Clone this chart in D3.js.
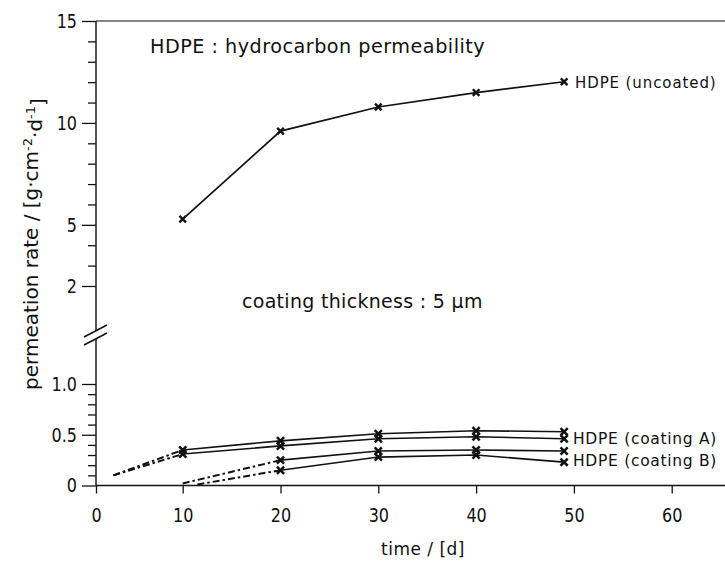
<!DOCTYPE html>
<html><head><meta charset="utf-8">
<script src="https://cdn.jsdelivr.net/npm/d3@7"></script>
<style>
html,body{margin:0;padding:0;background:#fff;}
svg{display:block;}
text{font-family:"DejaVu Sans",sans-serif;fill:#111;}
</style></head><body>
<svg id="chart" width="725" height="561"></svg>
<script>
// ---------- data ----------
const xTicks = [0, 10, 20, 30, 40, 50, 60];
const xTickLabels = ["0", "10", "20", "30", "40", "50", "60"];
const yTicksUpper = [2, 5, 10, 15];
const yTickLabelsUpper = ["2", "5", "10", "15"];
const yMinorUpper = [3, 4, 6, 7, 8, 9, 11, 12, 13, 14];
const yTicksLower = [0, 0.5, 1.0];
const yTickLabelsLower = ["0", "0.5", "1.0"];
const yMinorLower = [0.1, 0.2, 0.3, 0.4, 0.6, 0.7, 0.8, 0.9];

const uncoatedDays = [10, 20, 30, 40, 49];
const uncoatedRate = [5.28, 9.6, 10.78, 11.49, 12.02];

const coatingA1Days = [2, 10, 20, 30, 40, 49];
const coatingA1Rate = [0.10, 0.35, 0.44, 0.51, 0.54, 0.53];
const coatingA2Days = [2, 10, 20, 30, 40, 49];
const coatingA2Rate = [0.10, 0.31, 0.39, 0.46, 0.48, 0.46];
const coatingB1Days = [10, 20, 30, 40, 49];
const coatingB1Rate = [0.02, 0.25, 0.34, 0.35, 0.34];
const coatingB2Days = [11.5, 20, 30, 40, 49];
const coatingB2Rate = [0.01, 0.15, 0.28, 0.30, 0.23];

const titleText = "HDPE : hydrocarbon permeability";
const noteText = "coating thickness : 5 \u00B5m";
const labelUncoated = "HDPE (uncoated)";
const labelA = "HDPE (coating A)";
const labelB = "HDPE (coating B)";
const xTitle = "time / [d]";

// ---------- layout ----------
const W = 725, H = 561;
const ink = "#111";
const svg = d3.select("#chart");

const x = d3.scaleLinear().domain([0, 10, 65.5]).range([96, 182.7, 725.5]);
const yHigh = d3.scaleLinear().domain([2, 15]).range([286, 21]);
const yLow = d3.scaleLinear().domain([0, 1]).range([485.5, 384]);
const x0 = x(0);
const breakY = (yHigh(2) + yLow(1)) / 2;

function condense(sel, k) {
  sel.each(function () {
    const t = d3.select(this);
    const tx = +t.attr("x") || 0;
    t.attr("x", tx / k).attr("transform", `scale(${k},1)`);
  });
}
function styleAxis(g) {
  g.select(".domain").remove();
  g.selectAll(".tick line").attr("stroke", ink).attr("stroke-width", 1.3);
  g.selectAll(".tick text").attr("fill", ink)
    .style("font-family", "DejaVu Sans, sans-serif").style("font-size", "20px");
}

// x axis
const gx = svg.append("g").attr("transform", `translate(0,${yLow(0)})`)
  .call(d3.axisBottom(x).tickValues(xTicks).tickFormat((d, i) => xTickLabels[i])
    .tickSize(8).tickSizeOuter(0).tickPadding(14));
styleAxis(gx);
condense(gx.selectAll(".tick text"), 0.8);
svg.append("line").attr("x1", x0).attr("x2", W).attr("y1", yLow(0)).attr("y2", yLow(0))
  .attr("stroke", ink).attr("stroke-width", 1.3);

// upper y axis
const gyU = svg.append("g").attr("transform", `translate(${x0},0)`)
  .call(d3.axisLeft(yHigh).tickValues(yTicksUpper).tickFormat((d, i) => yTickLabelsUpper[i])
    .tickSize(14).tickSizeOuter(0).tickPadding(5));
styleAxis(gyU);
condense(gyU.selectAll(".tick text"), 0.8);
const gyUm = svg.append("g").attr("transform", `translate(${x0},0)`)
  .call(d3.axisLeft(yHigh).tickValues(yMinorUpper).tickFormat("").tickSize(8).tickSizeOuter(0));
styleAxis(gyUm);

// lower y axis
const gyL = svg.append("g").attr("transform", `translate(${x0},0)`)
  .call(d3.axisLeft(yLow).tickValues(yTicksLower).tickFormat((d, i) => yTickLabelsLower[i])
    .tickSize(14).tickSizeOuter(0).tickPadding(5));
styleAxis(gyL);
condense(gyL.selectAll(".tick text"), 0.8);
const gyLm = svg.append("g").attr("transform", `translate(${x0},0)`)
  .call(d3.axisLeft(yLow).tickValues(yMinorLower).tickFormat("").tickSize(8).tickSizeOuter(0));
styleAxis(gyLm);

// axis spine with break
svg.append("line").attr("x1", x0).attr("x2", x0).attr("y1", yHigh(15)).attr("y2", breakY - 4)
  .attr("stroke", ink).attr("stroke-width", 1.4);
svg.append("line").attr("x1", x0).attr("x2", x0).attr("y1", breakY + 4).attr("y2", yLow(0))
  .attr("stroke", ink).attr("stroke-width", 1.4);
[breakY - 4, breakY + 4].forEach(yb => {
  svg.append("line").attr("x1", x0 - 12).attr("y1", yb + 6).attr("x2", x0 + 11).attr("y2", yb - 6)
    .attr("stroke", ink).attr("stroke-width", 1.5);
});
// top frame line
svg.append("line").attr("x1", x0).attr("x2", W).attr("y1", yHigh(15)).attr("y2", yHigh(15))
  .attr("stroke", ink).attr("stroke-width", 1.2);

// ---------- marks ----------
function xMark(cx, cy, s) {
  return `M${cx - s},${cy - s}L${cx + s},${cy + s}M${cx - s},${cy + s}L${cx + s},${cy - s}`;
}
const plot = svg.append("g");

// uncoated
const upts = uncoatedDays.map((d, i) => [x(d), yHigh(uncoatedRate[i])]);
plot.append("path").attr("d", d3.line()(upts)).attr("fill", "none")
  .attr("stroke", ink).attr("stroke-width", 1.7);
plot.append("path").attr("d", upts.map(p => xMark(p[0], p[1], 3.3)).join(""))
  .attr("stroke", ink).attr("stroke-width", 2.4).attr("fill", "none");

// coatings
const lowerSeries = [
  [coatingA1Days, coatingA1Rate],
  [coatingA2Days, coatingA2Rate],
  [coatingB1Days, coatingB1Rate],
  [coatingB2Days, coatingB2Rate]
];
lowerSeries.forEach(([days, rate]) => {
  const pts = days.map((d, i) => [x(d), yLow(rate[i])]);
  plot.append("path").attr("d", d3.line()(pts.slice(0, 2))).attr("fill", "none")
    .attr("stroke", ink).attr("stroke-width", 2).attr("stroke-dasharray", "7,3,2.5,3");
  plot.append("path").attr("d", d3.line()(pts.slice(1))).attr("fill", "none")
    .attr("stroke", ink).attr("stroke-width", 1.6);
  plot.append("path").attr("d", pts.slice(1).map(p => xMark(p[0], p[1], 3.6)).join(""))
    .attr("stroke", ink).attr("stroke-width", 2.5).attr("fill", "none");
});

// ---------- texts ----------
svg.append("text").attr("x", 150).attr("y", 53).style("font-size", "19.2px")
  .style("letter-spacing", "0.5px").text(titleText);
svg.append("text").attr("x", 242).attr("y", 308).style("font-size", "19px")
  .style("letter-spacing", "0.3px").text(noteText);
svg.append("text").attr("x", 575).attr("y", 87.5).style("font-size", "15px")
  .style("letter-spacing", "0.9px").text(labelUncoated);
svg.append("text").attr("x", 573).attr("y", 443.5).style("font-size", "15.5px")
  .style("letter-spacing", "0.7px").text(labelA);
svg.append("text").attr("x", 573).attr("y", 466).style("font-size", "15.5px")
  .style("letter-spacing", "0.7px").text(labelB);
svg.append("text").attr("x", 423).attr("y", 555).attr("text-anchor", "middle")
  .style("font-size", "17px").style("letter-spacing", "0.5px").text(xTitle);

const yl = svg.append("text").attr("transform", "translate(38,244) rotate(-90)")
  .attr("text-anchor", "middle").style("font-size", "20px");
yl.append("tspan").text("permeation rate / [g\u00B7cm");
yl.append("tspan").attr("dy", "-0.5em").style("font-size", "13px").text("-2");
yl.append("tspan").attr("dy", "0.5em").text("\u00B7d");
yl.append("tspan").attr("dy", "-0.5em").style("font-size", "13px").text("-1");
yl.append("tspan").attr("dy", "0.5em").text("]");
</script>
</body></html>
